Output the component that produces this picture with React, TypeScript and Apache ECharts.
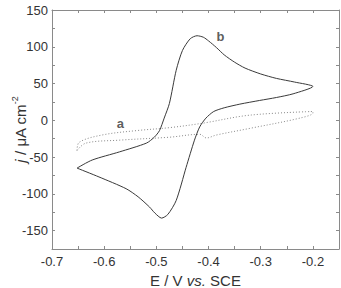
import React, { useEffect, useRef } from "react";
import * as echarts from "echarts";

// Curve b (solid): potential (V vs. SCE) and current density (µA cm^-2)
const bE = [-0.652, -0.623, -0.571, -0.519, -0.504, -0.494, -0.485, -0.475, -0.462, -0.45, -0.435, -0.422, -0.41, -0.4, -0.385, -0.37, -0.35, -0.33, -0.3, -0.27, -0.235, -0.2,
  -0.238, -0.27, -0.302, -0.34, -0.37, -0.39, -0.405, -0.417, -0.427, -0.443, -0.462, -0.478, -0.49, -0.503, -0.513, -0.535, -0.558, -0.61, -0.652];
const bJ = [-65, -54, -43, -31, -23, -14, 3, 23, 68, 95, 111, 115, 113, 108, 99, 89, 79, 71, 63, 57, 52, 46,
  36, 31, 27, 22, 17, 12, 3, -9, -27, -64, -109, -128, -133, -126, -118, -104, -93, -77, -65];

// Curve a (dotted)
const aE = [-0.652, -0.648, -0.604, -0.538, -0.475, -0.412, -0.321, -0.2,
  -0.2, -0.225, -0.321, -0.385, -0.404, -0.417, -0.475, -0.571, -0.635, -0.652];
const aJ = [-41, -30, -20, -14, -10, -4, 7, 12,
  10, 3, -11, -20, -24, -19, -23, -27, -31, -41];

// Curve labels
const labelNames = ["a", "b"];
const labelE = [-0.569, -0.377];
const labelJ = [-5, 114];

const xTickLabels = [-0.7, -0.6, -0.5, -0.4, -0.3, -0.2];
const yTickLabels = [-150, -100, -50, 0, 50, 100, 150];

export default function App() {
  const ref = useRef<HTMLDivElement>(null);
  useEffect(() => {
    if (!ref.current) return;
    document.body.style.margin = "0";
    const chart = echarts.init(ref.current, undefined, { renderer: "svg" });
    const font = "'Liberation Sans', Arial, sans-serif";
    const frame = "#8a8a8a";
    const textColor = "#333";
    const xFmt = (v: number) => {
      const hit = xTickLabels.find((t) => Math.abs(t - v) < 1e-6);
      return hit === undefined ? "" : hit.toFixed(1);
    };
    const yFmt = (v: number) => {
      const hit = yTickLabels.find((t) => Math.abs(t - v) < 1e-6);
      return hit === undefined ? "" : String(hit);
    };
    const baseX = {
      type: "value" as const,
      min: -0.7,
      max: -0.15,
      interval: 0.05,
      axisLine: { show: true, onZero: false, lineStyle: { color: frame, width: 1 } },
      axisTick: { show: true, inside: true, length: 3, lineStyle: { color: frame } },
      splitLine: { show: false },
    };
    const baseY = {
      type: "value" as const,
      min: -175,
      max: 150,
      interval: 25,
      axisLine: { show: true, onZero: false, lineStyle: { color: frame, width: 1 } },
      axisTick: { show: true, inside: true, length: 3, lineStyle: { color: frame } },
      splitLine: { show: false },
    };
    chart.setOption({
      animation: false,
      grid: { left: 52, right: 2, top: 10, bottom: 39, containLabel: false, outerBoundsMode: "none" },
      xAxis: [
        {
          ...baseX,
          position: "bottom",
          axisLabel: { formatter: xFmt, color: textColor, fontSize: 13, fontFamily: font, margin: 6 },
          name: "{n|E / V }{i|vs.}{n| SCE}",
          nameLocation: "middle",
          nameGap: 24,
          nameMoveOverlap: false,
          nameTextStyle: {
            fontFamily: font,
            rich: {
              n: { fontSize: 15, fontFamily: font, color: textColor },
              i: { fontSize: 15, fontFamily: font, color: textColor, fontStyle: "italic" },
            },
          },
        },
        { ...baseX, position: "top", axisLabel: { show: false } },
      ],
      yAxis: [
        {
          ...baseY,
          position: "left",
          axisLabel: { formatter: yFmt, color: textColor, fontSize: 13, fontFamily: font, margin: 4 },
          name: "{i|j}{n| / μA cm}{s|-2}",
          nameLocation: "middle",
          nameRotate: 90,
          nameGap: 24,
          nameMoveOverlap: false,
          nameTextStyle: {
            fontFamily: font,
            rich: {
              n: { fontSize: 15, fontFamily: font, color: textColor, lineHeight: 18, verticalAlign: "bottom" },
              i: { fontSize: 15, fontFamily: font, color: textColor, fontStyle: "italic", lineHeight: 18, verticalAlign: "bottom" },
              s: { fontSize: 9, fontFamily: font, color: textColor, lineHeight: 18, verticalAlign: "top" },
            },
          },
        },
        { ...baseY, position: "right", axisLabel: { show: false } },
      ],
      series: [
        {
          type: "line",
          xAxisIndex: 0,
          yAxisIndex: 0,
          data: bE.map((e, i) => [e, bJ[i]]),
          smooth: 0.25,
          showSymbol: false,
          symbol: "none",
          lineStyle: { color: "#3a3a3a", width: 1 },
          z: 3,
        },
        {
          type: "line",
          xAxisIndex: 0,
          yAxisIndex: 0,
          data: aE.map((e, i) => [e, aJ[i]]),
          smooth: 0.35,
          showSymbol: false,
          symbol: "none",
          lineStyle: { color: "#888", width: 1, type: [1, 2] },
          z: 2,
        },
        {
          type: "scatter",
          xAxisIndex: 0,
          yAxisIndex: 0,
          symbolSize: 0,
          data: labelNames.map((n, i) => ({ name: n, value: [labelE[i], labelJ[i]] })),
          label: {
            show: true,
            position: "inside",
            formatter: "{b}",
            fontSize: 13,
            fontWeight: "bold",
            fontFamily: font,
            color: "#333",
          },
          silent: true,
        },
      ],
    });
    return () => chart.dispose();
  }, []);
  return <div ref={ref} style={{ width: 341, height: 288 }} />;
}
